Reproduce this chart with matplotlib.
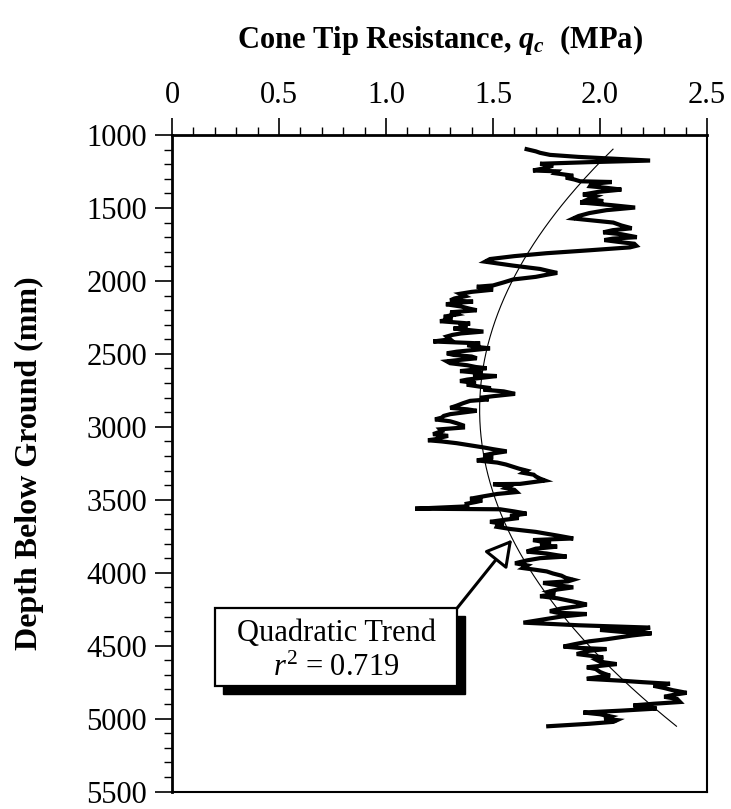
import numpy as np
import matplotlib
matplotlib.use("Agg")
import matplotlib.pyplot as plt
from matplotlib.patches import Rectangle
from matplotlib.transforms import offset_copy

plt.rcParams['font.family'] = ['Liberation Serif', 'DejaVu Serif']
plt.rcParams['mathtext.fontset'] = 'custom'
plt.rcParams['mathtext.rm'] = 'Liberation Serif'
plt.rcParams['mathtext.it'] = 'Liberation Serif:italic'
plt.rcParams['mathtext.bf'] = 'Liberation Serif:bold'
plt.rcParams['mathtext.bfit'] = 'Liberation Serif:bold:italic'

# CPT sounding: depth (mm) and cone tip resistance (MPa)
depth = [
    1097, 1112, 1122, 1136, 1150, 1165, 1175, 1186, 1197, 1210, 1225, 1243, 1249, 1262,
    1279, 1292, 1305, 1317, 1322, 1335, 1351, 1362, 1374, 1390, 1408, 1420, 1438, 1453,
    1462, 1480, 1497, 1515, 1535, 1555, 1572, 1585, 1600, 1620, 1639, 1652, 1667, 1680,
    1700, 1710, 1720, 1735, 1745, 1759, 1770, 1790, 1810, 1830, 1850, 1868, 1880, 1895,
    1918, 1932, 1945, 1958, 1972, 1990, 2010, 2031, 2040, 2050, 2060, 2075, 2088, 2105,
    2120, 2133, 2142, 2150, 2160, 2175, 2190, 2201, 2215, 2230, 2245, 2262, 2276, 2292,
    2305, 2318, 2326, 2347, 2360, 2370, 2381, 2400, 2415, 2428, 2440, 2452, 2462, 2475,
    2485, 2496, 2507, 2518, 2530, 2542, 2551, 2564, 2578, 2590, 2598, 2610, 2618, 2632,
    2643, 2652, 2665, 2676, 2686, 2700, 2711, 2725, 2735, 2745, 2757, 2774, 2790, 2801,
    2812, 2822, 2838, 2855, 2870, 2880, 2890, 2902, 2913, 2925, 2937, 2949, 2962, 2975,
    2990, 3005, 3017, 3030, 3040, 3050, 3062, 3075, 3085, 3092, 3100, 3112, 3128, 3141,
    3153, 3168, 3182, 3196, 3210, 3222, 3230, 3245, 3258, 3272, 3286, 3300, 3315, 3328,
    3340, 3355, 3368, 3380, 3391, 3393, 3405, 3420, 3432, 3447, 3460, 3475, 3493, 3505,
    3515, 3527, 3545, 3561, 3565, 3580, 3595, 3610, 3625, 3640, 3651, 3665, 3675, 3685,
    3700, 3720, 3745, 3765, 3776, 3790, 3800, 3810, 3821, 3835, 3855, 3868, 3880, 3889,
    3900, 3915, 3935, 3950, 3968, 3980, 3991, 4005, 4020, 4035, 4048, 4059, 4070, 4085,
    4100, 4115, 4130, 4145, 4161, 4175, 4190, 4205, 4218, 4229, 4245, 4263, 4274, 4283,
    4300, 4320, 4342, 4360, 4376, 4387, 4392, 4405, 4415, 4430, 4445, 4456, 4470, 4490,
    4506, 4515, 4523, 4535, 4557, 4570, 4580, 4595, 4610, 4626, 4638, 4648, 4660, 4680,
    4692, 4705, 4715, 4727, 4740, 4750, 4761, 4775, 4790, 4805, 4823, 4835, 4850, 4865,
    4886, 4898, 4909, 4920, 4931, 4945, 4958, 4970, 4985, 5000, 5010, 5022, 5035, 5052,
]
qc = [
    1.657, 1.70, 1.72, 1.766, 1.90, 2.10, 2.234, 1.95, 1.72, 1.78, 1.75, 1.687, 1.80, 1.79,
    1.875, 1.84, 1.88, 1.907, 2.055, 1.96, 1.953, 2.03, 2.10, 1.99, 1.92, 1.98, 1.95, 2.015,
    1.907, 2.05, 2.164, 2.03, 1.95, 1.90, 1.875, 1.96, 2.062, 2.10, 2.148, 2.06, 2.015, 2.10,
    2.172, 2.06, 2.02, 2.10, 2.16, 2.17, 2.14, 1.95, 1.75, 1.60, 1.486, 1.463, 1.52, 1.594,
    1.72, 1.76, 1.80, 1.75, 1.70, 1.594, 1.55, 1.50, 1.424, 1.47, 1.50, 1.40, 1.346, 1.37,
    1.32, 1.30, 1.407, 1.33, 1.28, 1.35, 1.39, 1.424, 1.30, 1.33, 1.27, 1.31, 1.252, 1.393,
    1.34, 1.38, 1.315, 1.455, 1.35, 1.31, 1.284, 1.30, 1.221, 1.44, 1.38, 1.42, 1.486, 1.40,
    1.33, 1.284, 1.315, 1.40, 1.424, 1.34, 1.284, 1.30, 1.38, 1.42, 1.47, 1.40, 1.346, 1.45,
    1.407, 1.517, 1.44, 1.38, 1.346, 1.42, 1.377, 1.44, 1.49, 1.455, 1.55, 1.603, 1.50, 1.44,
    1.48, 1.393, 1.36, 1.33, 1.30, 1.38, 1.424, 1.36, 1.30, 1.27, 1.26, 1.229, 1.30, 1.33,
    1.36, 1.36, 1.252, 1.26, 1.24, 1.22, 1.29, 1.25, 1.23, 1.196, 1.26, 1.33, 1.40, 1.455,
    1.50, 1.564, 1.50, 1.455, 1.50, 1.46, 1.424, 1.52, 1.56, 1.59, 1.62, 1.657, 1.64, 1.69,
    1.70, 1.72, 1.743, 1.68, 1.626, 1.50, 1.58, 1.56, 1.60, 1.611, 1.52, 1.46, 1.393, 1.45,
    1.42, 1.377, 1.38, 1.136, 1.533, 1.60, 1.657, 1.58, 1.62, 1.54, 1.486, 1.55, 1.52, 1.517,
    1.58, 1.70, 1.80, 1.875, 1.687, 1.74, 1.77, 1.72, 1.80, 1.70, 1.657, 1.75, 1.80, 1.844,
    1.72, 1.66, 1.603, 1.66, 1.64, 1.70, 1.751, 1.78, 1.82, 1.84, 1.875, 1.85, 1.734, 1.80,
    1.875, 1.80, 1.76, 1.79, 1.72, 1.80, 1.85, 1.90, 1.938, 1.90, 1.82, 1.766, 1.80, 1.938,
    1.82, 1.734, 1.642, 1.90, 2.234, 2.20, 2.00, 2.10, 2.241, 2.15, 2.08, 2.03, 1.95, 1.88,
    1.829, 1.90, 2.03, 1.95, 1.891, 1.96, 2.015, 1.98, 2.00, 2.078, 2.00, 1.938, 1.98, 2.00,
    2.02, 2.047, 1.99, 1.938, 2.10, 2.20, 2.327, 2.25, 2.30, 2.34, 2.405, 2.35, 2.30, 2.36,
    2.374, 2.25, 2.156, 2.22, 2.265, 2.10, 1.922, 2.00, 2.05, 2.02, 2.08, 2.062, 1.95, 1.758,
]

x_ticks = [0, 0.5, 1.0, 1.5, 2.0, 2.5]
x_tick_labels = ["0", "0.5", "1.0", "1.5", "2.0", "2.5"]
y_ticks = [1000, 1500, 2000, 2500, 3000, 3500, 4000, 4500, 5000, 5500]

trend_label = "Quadratic Trend\n$r^2$ = 0.719"
arrow_tip = (1.589, 3773)

fig = plt.figure(figsize=(7.31, 8.09), dpi=100)
ax = fig.add_axes([0.2353, 0.0215, 0.7319, 0.8116])

ax.plot(qc, depth, color='black', lw=3.0, solid_joinstyle='miter', zorder=3)

# quadratic fit through the sounding
coef = np.polyfit(depth, qc, 2)
d_fit = np.linspace(min(depth), max(depth), 300)
ax.plot(np.polyval(coef, d_fit), d_fit, color='black', lw=0.8, zorder=4)

ax.set_xlim(0, 2.5)
ax.set_ylim(5500, 1000)
ax.xaxis.tick_top()
ax.xaxis.set_label_position('top')
ax.set_xticks(x_ticks)
ax.set_xticklabels(x_tick_labels)
ax.set_xticks(np.arange(0, 2.51, 0.1), minor=True)
ax.set_yticks(y_ticks)
ax.set_yticks(np.arange(1000, 5501, 100), minor=True)
ax.tick_params(which='major', length=12, width=1.2, labelsize=22, pad=6)
ax.tick_params(which='minor', length=6, width=1.0)
ax.tick_params(axis='x', which='both', top=True, bottom=False)

for side in ['top', 'left']:
    ax.spines[side].set_linewidth(2.0)
for side in ['right', 'bottom']:
    ax.spines[side].set_linewidth(1.5)

ax.set_xlabel(r"Cone Tip Resistance, $\mathbfit{q}_{\mathbfit{c}}$  (MPa)",
              fontsize=22, fontweight='bold', labelpad=24)
ax.set_ylabel("Depth Below Ground (mm)", fontsize=23, fontweight='bold')
ax.yaxis.set_label_coords(-0.24, 0.5)

# callout box with drop shadow
box_x, box_y, box_w, box_h = 0.201, 4243, 1.131, 530
shadow = Rectangle((box_x, box_y), box_w, box_h, facecolor='black', edgecolor='black',
                   transform=offset_copy(ax.transData, fig=fig, x=8, y=-8, units='dots'),
                   zorder=5)
ax.add_patch(shadow)
ax.add_patch(Rectangle((box_x, box_y), box_w, box_h, facecolor='white', edgecolor='black',
                       lw=1.6, zorder=6))
ax.text(box_x + box_w / 2, box_y + box_h / 2 + 30, trend_label, ha='center', va='center',
        fontsize=22, linespacing=1.25, zorder=7)
ax.annotate('', xy=arrow_tip, xytext=(box_x + box_w, box_y),
            arrowprops=dict(arrowstyle='-|>,head_length=0.8,head_width=0.45',
                            mutation_scale=20, fc='white', ec='black', lw=2.2,
                            shrinkA=0, shrinkB=0),
            zorder=6)

fig.savefig("out.png", dpi=100)
